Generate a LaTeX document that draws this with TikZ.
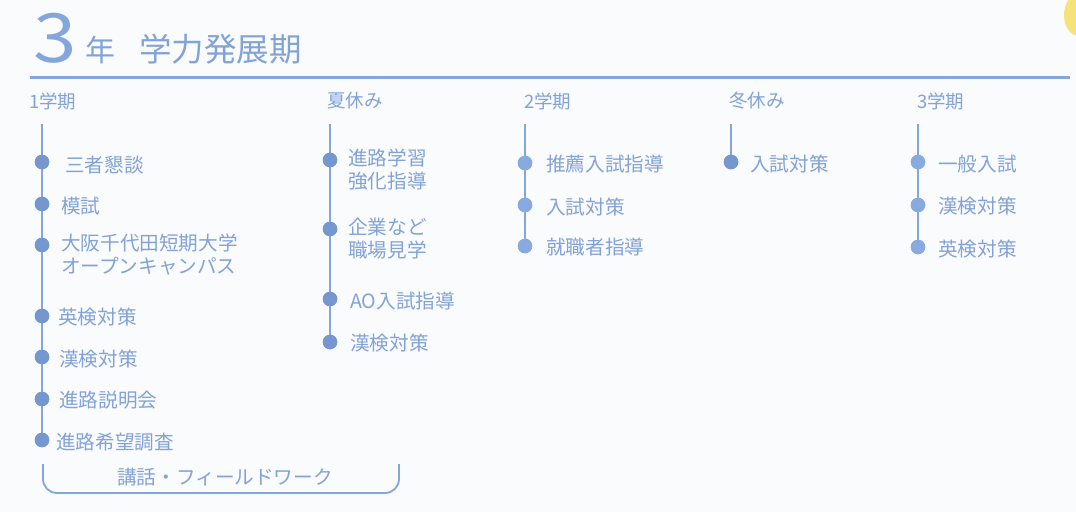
\documentclass[tikz,border=0pt]{standalone}
\usepackage{fontspec}
\setmainfont{Noto Sans CJK JP}
\newfontfamily\jp{Noto Sans CJK JP}
\definecolor{bgc}{HTML}{FAFBFC}
\definecolor{txt}{HTML}{82A2D8}
\definecolor{dotdark}{HTML}{7596CE}
\definecolor{dotlight}{HTML}{88AADF}
\definecolor{rule}{HTML}{85A6DC}
\definecolor{sun}{HTML}{F6E27A}
\begin{document}
\begin{tikzpicture}[x=1pt,y=-1pt,
  lbl/.style={font=\jp\fontsize{19.6}{23}\selectfont,text=txt,anchor=west,inner sep=0pt,align=left},
  hdr/.style={font=\jp\fontsize{18.5}{23}\selectfont,text=txt,anchor=west,inner sep=0pt},
  dotd/.style={circle,fill=dotdark,minimum size=14.5pt,inner sep=0pt},
  dotl/.style={circle,fill=dotlight,minimum size=14.5pt,inner sep=0pt},
  vline/.style={draw=rule,line width=1.6pt},
  bracket/.style={draw=rule,line width=1.8pt,rounded corners=14pt}]
\useasboundingbox (0,0) rectangle (1076,512);
\fill[bgc] (0,0) rectangle (1076,512);
\begin{scope}
\clip (0,0) rectangle (1076,512);
\fill[sun] (1079,15) ellipse [x radius=15pt,y radius=21pt];
\end{scope}
% title
\node[font=\jp\fontsize{68}{70}\selectfont,text=rule,anchor=base west,inner sep=0pt] (three) at (33,62) {\scalebox{1.15}[1]{3}};
\node[font=\jp\fontsize{30}{30}\selectfont,text=txt,anchor=base west,inner sep=0pt] (nen) at (85,61) {年};
\node[font=\jp\fontsize{32.5}{34}\selectfont,text=txt,anchor=base west,inner sep=0pt] (ttl) at (139,61) {学力発展期};
\coordinate (r1) at (30,77);
\coordinate (r2) at (1070,77);
\draw[draw=rule,line width=3pt] (r1) -- (r2);
% headers
\node[hdr] (h1) at (29,101) {1学期};
\node[hdr] (h2) at (327,101) {夏休み};
\node[hdr] (h3) at (524,101) {2学期};
\node[hdr] (h4) at (729,101) {冬休み};
\node[hdr] (h5) at (917,101) {3学期};
% column 1
\coordinate (t1) at (42,124);
\node[dotd] (a1) at (42,162) {};
\node[dotd] (a2) at (42,204) {};
\node[dotd] (a3) at (42,245) {};
\node[dotd] (a4) at (42,316) {};
\node[dotd] (a5) at (42,357) {};
\node[dotd] (a6) at (42,399) {};
\node[dotd] (a7) at (42,440) {};
\draw[vline] (t1) -- (a7.center);
\foreach \n in {a1,a2,a3,a4,a5,a6,a7}{\node[dotd] at (\n) {};}
\node[lbl] (la1) at (65,165) {三者懇談};
\node[lbl] (la2) at (61,206) {模試};
\node[lbl,anchor=north west] (la3) at (61,234) {大阪千代田短期大学\\オープンキャンパス};
\node[lbl] (la4) at (58,317) {英検対策};
\node[lbl] (la5) at (59,359) {漢検対策};
\node[lbl] (la6) at (59,400) {進路説明会};
\node[lbl] (la7) at (56,442) {進路希望調査};
% bracket
\coordinate (b1) at (43,464);
\coordinate (b2) at (43,493);
\coordinate (b3) at (399,493);
\coordinate (b4) at (399,464);
\draw[bracket] (b1) -- (b2) -- (b3) -- (b4);
\node[lbl,anchor=center] (lb) at (225,477) {講話・フィールドワーク};
% column 2
\coordinate (t2) at (330,124);
\node[dotd] (c1) at (330,160) {};
\node[dotd] (c2) at (330,229) {};
\node[dotd] (c3) at (330,299) {};
\node[dotd] (c4) at (330,342) {};
\draw[vline] (t2) -- (c4.center);
\foreach \n in {c1,c2,c3,c4}{\node[dotd] at (\n) {};}
\node[lbl,anchor=north west] (lc1) at (348,149) {進路学習\\強化指導};
\node[lbl,anchor=north west] (lc2) at (348,218) {企業など\\職場見学};
\node[lbl] (lc3) at (350,301) {AO入試指導};
\node[lbl] (lc4) at (350,343) {漢検対策};
% column 3
\coordinate (t3) at (525,124);
\node[dotl] (d1) at (525,163) {};
\node[dotl] (d2) at (525,205) {};
\node[dotl] (d3) at (525,246) {};
\draw[vline] (t3) -- (d3.center);
\foreach \n in {d1,d2,d3}{\node[dotl] at (\n) {};}
\node[lbl] (ld1) at (546,164) {推薦入試指導};
\node[lbl] (ld2) at (546,207) {入試対策};
\node[lbl] (ld3) at (546,247) {就職者指導};
% column 4
\coordinate (t4) at (731,124);
\node[dotd] (e1) at (731,162) {};
\draw[vline] (t4) -- (e1.center);
\node[dotd] at (e1) {};
\node[lbl] (le1) at (750,164) {入試対策};
% column 5
\coordinate (t5) at (918,124);
\node[dotl] (f1) at (918,162) {};
\node[dotl] (f2) at (918,205) {};
\node[dotl] (f3) at (918,247) {};
\draw[vline] (t5) -- (f3.center);
\foreach \n in {f1,f2,f3}{\node[dotl] at (\n) {};}
\node[lbl] (lf1) at (938,164) {一般入試};
\node[lbl] (lf2) at (938,206) {漢検対策};
\node[lbl] (lf3) at (938,249) {英検対策};
\end{tikzpicture}
\end{document}
